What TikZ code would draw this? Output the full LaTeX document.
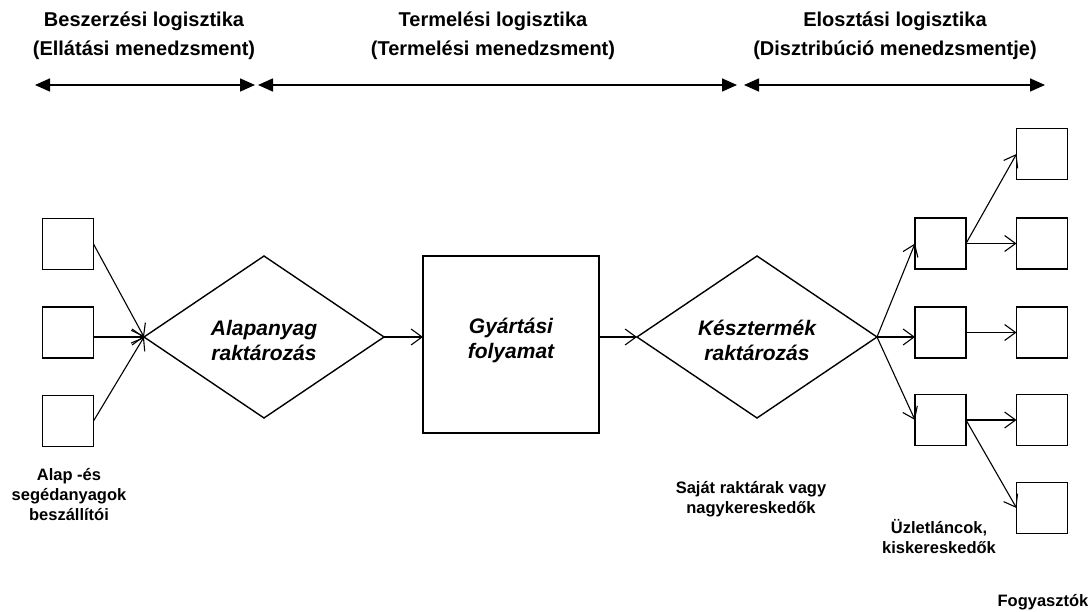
\documentclass[tikz,border=0pt]{standalone}
\usepackage{fontspec}
\setmainfont{Liberation Sans}
\usetikzlibrary{shapes.geometric,arrows.meta}
\begin{document}
\begin{tikzpicture}[x=1pt,y=-1pt,
  sq/.style={draw,line width=1.4pt,minimum width=51pt,minimum height=51pt,inner sep=0pt,outer sep=0pt},
  store/.style={diamond,draw,line width=1.4pt,minimum width=240pt,minimum height=162pt,inner sep=0pt,outer sep=0pt,align=center,font=\fontsize{21}{25}\selectfont\bfseries\itshape},
  proc/.style={draw,line width=1.4pt,minimum width=176pt,minimum height=177pt,inner sep=0pt,outer sep=0pt,align=center,font=\fontsize{21}{25}\selectfont\bfseries\itshape},
  title/.style={align=center,inner sep=0pt,font=\fontsize{20}{29}\selectfont\bfseries},
  note/.style={align=center,inner sep=0pt,font=\fontsize{16.5}{20}\selectfont\bfseries},
  flow/.style={line width=1.1pt,-{Straight Barb[length=11pt,width=16pt,line width=1.1pt]}},
  span/.style={line width=1.6pt,{Triangle[length=15pt,width=13pt]}-{Triangle[length=15pt,width=13pt]}}
]
\useasboundingbox (0,0) rectangle (1090,612);

% phase headings
\node[title] (t1) at (144,36) {Beszerzési logisztika\\(Ellátási menedzsment)};
\node[title] (t2) at (493,36) {Termelési logisztika\\(Termelési menedzsment)};
\node[title] (t3) at (895,36) {Elosztási logisztika\\(Disztribúció menedzsmentje)};

% phase extent arrows
\coordinate (s1a) at (35,85);  \coordinate (s1b) at (255,85);
\coordinate (s2a) at (258,85); \coordinate (s2b) at (737,85);
\coordinate (s3a) at (744,85); \coordinate (s3b) at (1045,85);
\draw[span] (s1a) -- (s1b);
\draw[span] (s2a) -- (s2b);
\draw[span] (s3a) -- (s3b);

% suppliers
\node[sq] (l1) at (68,244) {};
\node[sq] (l2) at (68,332.5) {};
\node[sq] (l3) at (68,421) {};

% main flow
\node[store] (d1) at (264,337) {};
\node[proc]  (g)  at (511,344.5) {};
\node[store] (d2) at (757,337) {};
\node[align=center,inner sep=0pt,font=\fontsize{21}{25}\selectfont\bfseries\itshape] (d1t) at (264,340) {Alapanyag\\raktározás};
\node[align=center,inner sep=0pt,font=\fontsize{21}{25}\selectfont\bfseries\itshape] (gt) at (511,340) {Gyártási\\folyamat};
\node[align=center,inner sep=0pt,font=\fontsize{21}{25}\selectfont\bfseries\itshape] (d2t) at (757,340) {Késztermék\\raktározás};

% retail chains
\node[sq] (m1) at (940.5,243.5) {};
\node[sq] (m2) at (940.5,332.5) {};
\node[sq] (m3) at (940.5,420) {};

% consumers
\node[sq] (r1) at (1042,154) {};
\node[sq] (r2) at (1042,243.5) {};
\node[sq] (r3) at (1042,332.5) {};
\node[sq] (r4) at (1042,420) {};
\node[sq] (r5) at (1042,508) {};

% connectors
\draw[flow] (l1.east) -- (d1.west);
\draw[flow] (l2.east |- d1.west) -- (d1.west);
\draw[flow] (l3.east) -- (d1.west);
\draw[flow] (d1.east) -- (d1.east -| g.west);
\draw[flow] (d2.west -| g.east) -- (d2.west);
\draw[flow] (d2.east) -- (m1.west);
\draw[flow] (d2.east) -- (d2.east -| m2.west);
\draw[flow] (d2.east) -- (m3.west);
\draw[flow] (m1.east) -- (r1.west);
\draw[flow] (m1.east) -- (r2.west);
\draw[flow] (m2.east) -- (r3.west);
\draw[flow] (m3.east) -- (r4.west);
\draw[flow] (m3.east) -- (r5.west);

% captions
\node[note] (c1) at (69,495) {Alap -és\\segédanyagok\\beszállítói};
\node[note] (c2) at (751,499) {Saját raktárak vagy\\nagykereskedők};
\node[note] (c3) at (939,537) {Üzletláncok,\\kiskereskedők};
\node[note] (c4) at (1043,602) {Fogyasztók};
\end{tikzpicture}
\end{document}
